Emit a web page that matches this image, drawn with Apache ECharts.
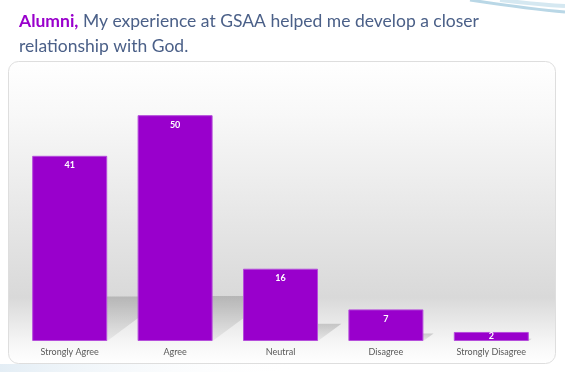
<!DOCTYPE html>
<html>
<head>
<meta charset="utf-8">
<script src="https://cdn.jsdelivr.net/npm/echarts@6/dist/echarts.min.js"></script>
<style>html,body{margin:0;padding:0;background:#fff;}#c{width:565px;height:372px;}</style>
</head>
<body>
<div id="c"></div>
<script>
var categories = ['Strongly Agree', 'Agree', 'Neutral', 'Disagree', 'Strongly Disagree'];
var values = [41, 50, 16, 7, 2];
var titleLead = 'Alumni,';
var titleRest = ' My experience at GSAA helped me develop a closer';
var titleLine2 = 'relationship with God.';

var chart = echarts.init(document.getElementById('c'), null, {renderer: 'canvas'});
var font = 'Lato, "Open Sans", sans-serif';

chart.setOption({
  backgroundColor: '#ffffff',
  animation: false,
  title: {
    left: 14, top: 4,
    text: '{a|' + titleLead + '}{b|' + titleRest + '}\n{b|' + titleLine2 + '}',
    textStyle: {
      fontWeight: 'normal',
      rich: {
        a: {fontFamily: font, fontSize: 17.5, fontWeight: 'bold', color: '#9900cc', lineHeight: 25},
        b: {fontFamily: font, fontSize: 17.5, fontWeight: 'normal', color: '#4b6088', lineHeight: 25}
      }
    }
  },
  graphic: [
    {type: 'rect', z: -10, shape: {x: 8.5, y: 61.5, width: 547, height: 302, r: 10},
     style: {stroke: '#dedede', lineWidth: 1,
       fill: {type: 'linear', x: 0, y: 0, x2: 0, y2: 1, colorStops: [
         {offset: 0, color: '#ffffff'}, {offset: 0.18, color: '#f8f8f8'},
         {offset: 0.78, color: '#d9d9d9'}, {offset: 0.93, color: '#f6f6f6'},
         {offset: 1, color: '#ffffff'}]}}},
    {type: 'bezierCurve', z: -5, shape: {x1: 470, y1: 0, x2: 565, y2: 12, cpx1: 510, cpy1: 6, cpx2: 540, cpy2: 10},
     style: {stroke: '#b9d7e6', lineWidth: 3, fill: null}},
    {type: 'bezierCurve', z: -5, shape: {x1: 500, y1: 0, x2: 565, y2: 6, cpx1: 525, cpy1: 3, cpx2: 545, cpy2: 5},
     style: {stroke: '#d5e8f1', lineWidth: 4, fill: null}},
    {type: 'rect', z: -11, shape: {x: 0, y: 364, width: 300, height: 8},
     style: {fill: {type: 'linear', x: 0, y: 0, x2: 1, y2: 0, colorStops: [
       {offset: 0, color: 'rgba(200,220,235,0.5)'}, {offset: 1, color: 'rgba(255,255,255,0)'}]}}}
  ],
  grid: {left: 17, right: 21, top: 70, bottom: 31},
  xAxis: {
    type: 'category', data: categories,
    axisLine: {show: false}, axisTick: {show: false},
    axisLabel: {color: '#595959', fontFamily: font, fontSize: 9, margin: 7}
  },
  yAxis: {type: 'value', min: 0, max: 60, show: false, splitLine: {show: false}},
  series: [
    {
      type: 'custom', z: 1, silent: true,
      data: values.map(function (v, i) { return [i, v]; }),
      renderItem: function (params, api) {
        var top = api.coord([api.value(0), api.value(1)]);
        var base = api.coord([api.value(0), 0]);
        var h = base[1] - top[1];
        var v = Math.min(h * 0.24, 45);
        var dx = v * 1.35;
        var xL = base[0] - 37.5, xR = base[0] + 37.5, y = base[1];
        return {
          type: 'polygon',
          shape: {points: [[xL, y], [xR, y], [xR + dx, y - v], [xL + dx, y - v]]},
          style: {fill: {type: 'linear', x: 0, y: 0, x2: 0, y2: 1, colorStops: [
            {offset: 0, color: 'rgba(0,0,0,0.16)'}, {offset: 1, color: 'rgba(0,0,0,0.05)'}]}}
        };
      }
    },
    {
      type: 'bar', z: 2, barWidth: 75, clip: false,
      data: values.map(function (v) {
        return v < 5 ? {value: v, label: {position: 'inside'}} : v;
      }),
      itemStyle: {color: '#9900cc', borderColor: '#b54ddb', borderWidth: 1},
      label: {show: true, position: 'insideTop', distance: 5, color: '#ffffff',
        fontFamily: font, fontSize: 9, fontWeight: 'bold'}
    }
  ]
});
</script>
</body>
</html>
